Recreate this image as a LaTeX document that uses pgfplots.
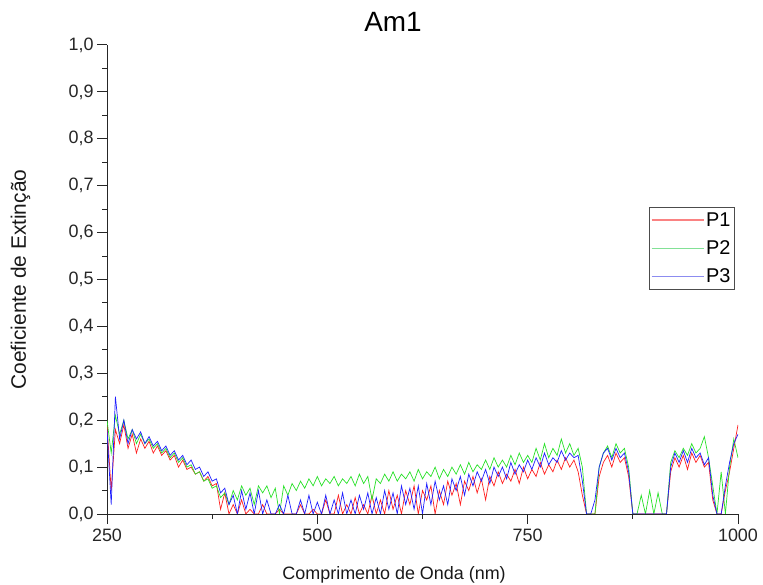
\documentclass[border=0pt]{standalone}
\usepackage{fontspec}
\setmainfont{Liberation Sans}
\usepackage{pgfplots}
\usepackage{pgfplotstable}
\pgfplotsset{compat=1.18}
\definecolor{cR}{RGB}{255,30,30}
\definecolor{cG}{RGB}{40,225,40}
\definecolor{cB}{RGB}{30,30,255}
\definecolor{lR}{RGB}{250,130,130}
\definecolor{lG}{RGB}{130,225,150}
\definecolor{lB}{RGB}{140,140,240}
\pgfplotstableread{
x p1 p2 p3
250 0.19 0.20 0.18
255 0.05 0.13 0.02
260 0.18 0.21 0.25
265 0.15 0.17 0.16
270 0.19 0.20 0.20
275 0.14 0.16 0.15
280 0.17 0.18 0.18
285 0.13 0.15 0.16
290 0.16 0.17 0.175
295 0.14 0.15 0.15
300 0.155 0.16 0.165
305 0.13 0.14 0.145
310 0.145 0.15 0.155
315 0.125 0.13 0.135
320 0.135 0.14 0.145
325 0.115 0.12 0.125
330 0.125 0.13 0.135
335 0.10 0.11 0.115
340 0.115 0.12 0.125
345 0.095 0.10 0.105
350 0.10 0.105 0.115
355 0.085 0.085 0.095
360 0.09 0.09 0.10
365 0.07 0.07 0.08
370 0.08 0.075 0.09
375 0.06 0.055 0.07
380 0.065 0.06 0.075
385 0.01 0.035 0.045
390 0.045 0.045 0.055
395 0.0 0.02 0.02
400 0.02 0.05 0.04
405 0.0 0.03 0.0
410 0.03 0.06 0.05
415 0.0 0.04 0.01
420 0.01 0.055 0.045
425 0.0 0.02 0.0
430 0.0 0.06 0.05
435 0.02 0.045 0.0
440 0.0 0.06 0.03
445 0.0 0.035 0.0
450 0.0 0.055 0.0
455 0.01 0.0 0.02
460 0.0 0.06 0.0
465 0.0 0.04 0.04
470 0.0 0.065 0.0
475 0.0 0.05 0.0
480 0.02 0.07 0.03
485 0.0 0.055 0.0
490 0.0 0.075 0.04
495 0.01 0.06 0.0
500 0.0 0.08 0.025
505 0.0 0.06 0.0
510 0.03 0.075 0.04
515 0.0 0.065 0.0
520 0.0 0.08 0.03
525 0.04 0.06 0.0
530 0.0 0.075 0.045
535 0.02 0.065 0.0
540 0.0 0.08 0.03
545 0.035 0.06 0.0
550 0.0 0.085 0.04
555 0.02 0.065 0.01
560 0.0 0.08 0.045
565 0.04 0.03 0.0
570 0.0 0.075 0.035
575 0.03 0.065 0.0
580 0.0 0.085 0.05
585 0.05 0.07 0.01
590 0.01 0.09 0.045
595 0.04 0.07 0.0
600 0.0 0.085 0.06
605 0.05 0.075 0.02
610 0.02 0.09 0.055
615 0.06 0.07 0.01
620 0.0 0.095 0.06
625 0.05 0.075 0.0
630 0.03 0.09 0.065
635 0.06 0.08 0.02
640 0.0 0.10 0.07
645 0.05 0.075 0.03
650 0.02 0.095 0.06
655 0.07 0.08 0.02
660 0.04 0.10 0.075
665 0.065 0.085 0.05
670 0.02 0.105 0.08
675 0.07 0.085 0.04
680 0.05 0.11 0.085
685 0.08 0.09 0.06
690 0.045 0.105 0.09
695 0.075 0.095 0.07
700 0.03 0.115 0.095
705 0.08 0.095 0.065
710 0.06 0.12 0.10
715 0.09 0.10 0.08
720 0.065 0.115 0.10
725 0.085 0.10 0.075
730 0.07 0.125 0.11
735 0.095 0.105 0.085
740 0.065 0.13 0.105
745 0.10 0.11 0.09
750 0.075 0.125 0.115
755 0.095 0.11 0.095
760 0.08 0.14 0.12
765 0.11 0.115 0.10
770 0.085 0.15 0.13
775 0.105 0.12 0.105
780 0.09 0.14 0.12
785 0.115 0.125 0.11
790 0.095 0.16 0.135
795 0.12 0.13 0.115
800 0.10 0.15 0.13
805 0.115 0.125 0.12
810 0.09 0.14 0.125
815 0.04 0.10 0.07
820 0.0 0.0 0.0
825 0.0 0.0 0.0
830 0.0 0.0 0.03
835 0.08 0.10 0.10
840 0.11 0.13 0.13
845 0.125 0.145 0.14
850 0.10 0.12 0.115
855 0.13 0.15 0.14
860 0.11 0.13 0.12
865 0.12 0.14 0.13
870 0.08 0.10 0.09
875 0.0 0.0 0.0
880 0.0 0.0 0.0
885 0.0 0.04 0.0
890 0.0 0.0 0.0
895 0.0 0.05 0.0
900 0.0 0.0 0.0
905 0.0 0.045 0.0
910 0.0 0.0 0.0
915 0.0 0.0 0.0
920 0.09 0.11 0.10
925 0.12 0.135 0.13
930 0.10 0.12 0.11
935 0.125 0.14 0.135
940 0.095 0.125 0.11
945 0.13 0.15 0.14
950 0.11 0.13 0.12
955 0.125 0.14 0.13
960 0.10 0.165 0.105
965 0.11 0.12 0.12
970 0.03 0.06 0.04
975 0.0 0.0 0.0
980 0.0 0.09 0.0
985 0.05 0.0 0.06
990 0.09 0.10 0.11
995 0.14 0.16 0.15
1000 0.19 0.12 0.17
}\datatable
\begin{document}
\begin{tikzpicture}
\useasboundingbox (0,0) rectangle (763bp,585bp);
\begin{axis}[
  at={(107bp,71bp)}, anchor=south west,
  scale only axis, width=631bp, height=469bp,
  xmin=250, xmax=1000, ymin=0, ymax=1,
  axis x line*=bottom, axis y line*=left,
  axis line style={line width=1bp, black!85},
  tick style={line width=1bp, black!85},
  tick align=outside,
  major tick length=10bp, minor tick length=5bp,
  xtick={250,500,750,1000}, xticklabels={250,500,750,1000},
  minor xtick={375,625,875},
  ytick={0,0.1,0.2,0.3,0.4,0.5,0.6,0.7,0.8,0.9,1.0},
  minor ytick={0.05,0.15,0.25,0.35,0.45,0.55,0.65,0.75,0.85,0.95},
  yticklabel style={/pgf/number format/.cd, fixed, fixed zerofill, precision=1, use comma, assume math mode=true},
  ticklabel style={font=\fontsize{18}{20}\selectfont, text=black!85},
  xticklabel style={yshift=-1bp},
  xlabel={Comprimento de Onda (nm)},
  ylabel={Coeficiente de Extinção},
  label style={text=black!90},
  xlabel style={font=\fontsize{18}{20}\selectfont, at={(axis description cs:0.455,0)}, anchor=base, yshift=-65bp},
  ylabel style={font=\fontsize{21}{23}\selectfont, at={(axis description cs:-0.1284,0.5)}, anchor=base},
  title={Am1},
  title style={at={(axis description cs:0.4532,1)}, anchor=base, yshift=8bp, font=\fontsize{28}{30}\selectfont},
  legend style={at={(axis description cs:0.9952,0.6546)}, anchor=north east,
    draw=black!70, line width=0.8bp, font=\fontsize{20}{22}\selectfont,
    inner xsep=2bp, inner ysep=3bp, row sep=9bp},
  legend cell align=left,
  legend image code/.code={\draw[line width=1.2bp, #1] (0bp,0bp) -- (52bp,0bp);},
]
\addplot[cR, line width=0.7bp, forget plot] table[x=x, y=p1] {\datatable};
\addplot[cG, line width=0.7bp, forget plot] table[x=x, y=p2] {\datatable};
\addplot[cB, line width=0.7bp, forget plot] table[x=x, y=p3] {\datatable};
\addlegendimage{draw=lR}
\addlegendentry{P1}
\addlegendimage{draw=lG}
\addlegendentry{P2}
\addlegendimage{draw=lB}
\addlegendentry{P3}
\end{axis}
\end{tikzpicture}
\end{document}
